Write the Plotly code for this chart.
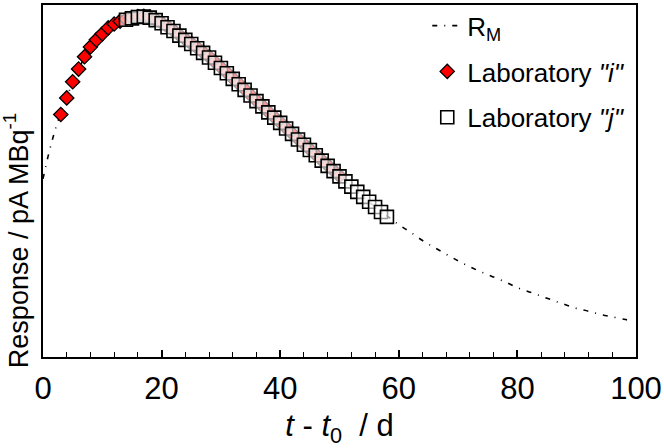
import plotly.graph_objects as go

# Model response curve R_M (days since t0, response)
rm_t = [0, 1, 2, 3, 4, 5, 6, 7, 8, 9, 10, 11, 12, 13, 14, 15, 16, 17, 18, 19, 20,
        22, 24, 26, 28, 30, 32, 34, 36, 38, 40, 42, 44, 46, 48, 50, 52, 54, 56, 58,
        60, 62, 64, 66, 68, 70, 72, 74, 76, 78, 80, 82, 84, 86, 88, 90, 92, 94, 96, 98, 99]
rm_y = [50.6, 58.0, 64.2, 69.3, 73.7, 78.0, 81.7, 85.1, 87.9, 90.1, 92.0, 93.5, 94.6, 95.5,
        96.0, 96.3, 96.6, 96.6, 96.4, 95.8, 95.0,
        92.7, 90.2, 87.7, 85.1, 82.1, 79.0, 75.9, 72.7, 69.5, 66.5, 63.4, 60.3, 57.3, 54.3,
        51.3, 48.4, 45.5, 42.7, 40.1,
        37.6, 35.4, 33.1, 31.1, 29.2, 27.3, 25.6, 24.1, 22.7, 21.3, 19.7, 18.5, 17.3, 16.1,
        14.9, 13.8, 13.0, 12.1, 11.4, 10.7, 10.4]

# Laboratory "i" measurements
lab_i_t = [3, 4, 5, 6, 7, 8, 9, 10, 11, 12, 13, 14, 15, 16, 17, 18, 19, 20, 21, 22,
           23, 24, 25, 26, 27, 28, 29, 30, 31, 32, 33, 34, 35, 36, 37, 38, 39, 40, 41,
           42, 43, 44, 45, 46, 47, 48, 49, 50]
lab_i_y = [68.9, 73.6, 78.2, 81.8, 85.3, 88.1, 90.1, 91.8, 93.5, 94.6, 95.4, 96.0, 96.4,
           96.7, 96.8, 96.5, 95.9, 95.0, 93.9, 92.8, 91.5, 90.3, 89.1, 87.9, 86.6, 85.3,
           83.8, 82.3, 80.8, 79.2, 77.7, 76.1, 74.5, 72.9, 71.4, 69.7, 68.2, 66.7, 65.1,
           63.6, 62.0, 60.5, 59.0, 57.5, 56.0, 54.5, 53.0, 51.5]

# Laboratory "j" measurements
lab_j_t = [14, 15, 16, 17, 18, 19, 20, 21, 22, 23, 24, 25, 26, 27, 28, 29, 30, 31, 32,
           33, 34, 35, 36, 37, 38, 39, 40, 41, 42, 43, 44, 45, 46, 47, 48, 49, 50, 51,
           52, 53, 54, 55, 56, 57, 58]
lab_j_y = [95.8, 96.2, 96.6, 96.7, 96.4, 95.7, 94.8, 93.7, 92.6, 91.3, 90.1, 88.9, 87.7,
           86.4, 85.1, 83.6, 82.1, 80.6, 79.0, 77.5, 75.9, 74.3, 72.7, 71.2, 69.5, 68.0,
           66.5, 64.9, 63.4, 61.8, 60.3, 58.8, 57.3, 55.8, 54.3, 52.8, 51.3, 49.9, 48.4,
           46.9, 45.5, 44.1, 42.6, 41.2, 39.8]

x_ticks = [0, 20, 40, 60, 80, 100]

axis_font = "Liberation Sans Narrow, Arial Narrow, Liberation Sans, sans-serif"
legend_font = "Liberation Sans, Arial, sans-serif"

fig = go.Figure()

fig.add_trace(go.Scatter(
    x=rm_t, y=rm_y, mode="lines", name="R<sub>M</sub>",
    line=dict(color="black", width=1.6, dash="5px,7px,1px,7px", shape="spline"),
    legendgroup="a",
))
fig.add_trace(go.Scatter(
    x=lab_i_t, y=lab_i_y, mode="markers", name="Laboratory <i>\"i\"</i>",
    marker=dict(symbol="diamond", size=11, color="#ff0000",
                line=dict(color="black", width=1.3)),
    legendgroup="b",
))
fig.add_trace(go.Scatter(
    x=lab_j_t, y=lab_j_y, mode="markers", name="Laboratory <i>\"j\"</i>",
    marker=dict(symbol="square", size=13, color="rgba(255,255,255,0.6)",
                line=dict(color="black", width=1.6)),
    legendgroup="c",
))

fig.update_layout(
    width=664, height=448,
    margin=dict(l=43, r=25, t=2, b=91),
    paper_bgcolor="white", plot_bgcolor="white",
    showlegend=True,
    legend=dict(
        x=0.648, y=1.008, xanchor="left", yanchor="top",
        font=dict(family=legend_font, size=26, color="black"),
        bgcolor="rgba(0,0,0,0)", tracegroupgap=9,
    ),
    xaxis=dict(
        range=[0, 100], tickvals=x_ticks, ticktext=[str(v) for v in x_ticks],
        ticklabeloverflow="allow", ticklabelstandoff=3,
        ticks="inside", ticklen=7, tickwidth=1.5, tickcolor="black",
        minor=dict(dtick=4, ticks="inside", ticklen=5, tickwidth=1.2, tickcolor="black"),
        showline=True, linecolor="black", linewidth=2, mirror=True,
        showgrid=False, zeroline=False,
        tickfont=dict(family=axis_font, size=31, color="black"),
        title=dict(text="<i>t</i> - <i>t</i><sub>0</sub>  / d",
                   font=dict(family=axis_font, size=31, color="black"), standoff=10),
    ),
    yaxis=dict(
        range=[0, 100], showticklabels=False, ticks="",
        showline=True, linecolor="black", linewidth=2, mirror=True,
        showgrid=False, zeroline=False,
    ),
    annotations=[dict(
        text="Response / pA MBq<sup>-1</sup>", textangle=-90,
        xref="paper", yref="paper", x=-0.045, y=0.33,
        xanchor="center", yanchor="middle", showarrow=False,
        font=dict(family=axis_font, size=27, color="black"),
    )],
)

fig.write_html("out.html")
